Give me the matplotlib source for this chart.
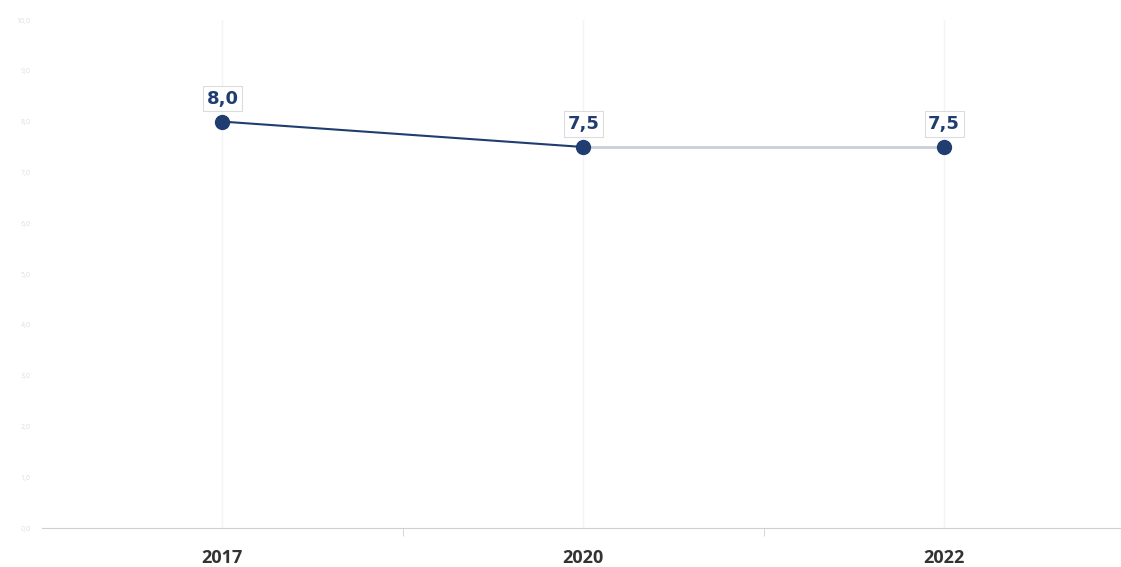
import matplotlib
matplotlib.use("Agg")
import matplotlib.pyplot as plt

plt.rcParams['font.family'] = ['Open Sans', 'DejaVu Sans']

# Series values
years = ["2017", "2020", "2022"]
values = [8.0, 7.5, 7.5]
y_ticks = [0, 1, 2, 3, 4, 5, 6, 7, 8, 9, 10]

navy = "#1f3d70"
light_line = "#c9ceda"

fig = plt.figure(figsize=(11.21, 5.67), dpi=100)
ax = fig.add_axes([42 / 1121, 39 / 567, 1 - 42 / 1121, 508 / 567])

x = list(range(len(years)))

# faint vertical guides at each year
for xi in x:
    ax.axvline(xi, color="#f4f4f4", lw=1, zorder=0)

# first segment dark, later segment pale
ax.plot(x[:2], values[:2], color=navy, lw=1.5, zorder=2)
ax.plot(x[1:], values[1:], color=light_line, lw=2, zorder=1)
ax.plot(x, values, "o", color=navy, markersize=10, zorder=3)

for xi, v in zip(x, values):
    ax.annotate(f"{v:.1f}".replace(".", ","), (xi, v), xytext=(0, 10),
                textcoords="offset points", ha="center", va="bottom",
                fontsize=13, fontweight="bold", color=navy, family="DejaVu Sans",
                bbox=dict(boxstyle="square,pad=0.2", fc="white", ec="#dcdcdc", lw=0.8),
                zorder=4)

ax.set_xlim(-0.5, 2.49)
ax.set_ylim(0, 10)
ax.set_xticks(x)
ax.set_xticklabels(years, fontsize=13, fontweight="bold", color="#333333")
ax.set_xticks([0.5, 1.5], minor=True)
ax.tick_params(axis="x", which="major", length=0, pad=15)
ax.tick_params(axis="x", which="minor", length=6, color="#d0d0d0")

ax.set_yticks(y_ticks)
ax.set_yticklabels([f"{t:.1f}".replace(".", ",") for t in y_ticks],
                   fontsize=5, color="#dedede")
ax.tick_params(axis="y", length=0, pad=8)

for side in ["top", "right", "left"]:
    ax.spines[side].set_visible(False)
ax.spines["bottom"].set_color("#d0d0d0")

fig.savefig("out.png", dpi=100, facecolor="white")
